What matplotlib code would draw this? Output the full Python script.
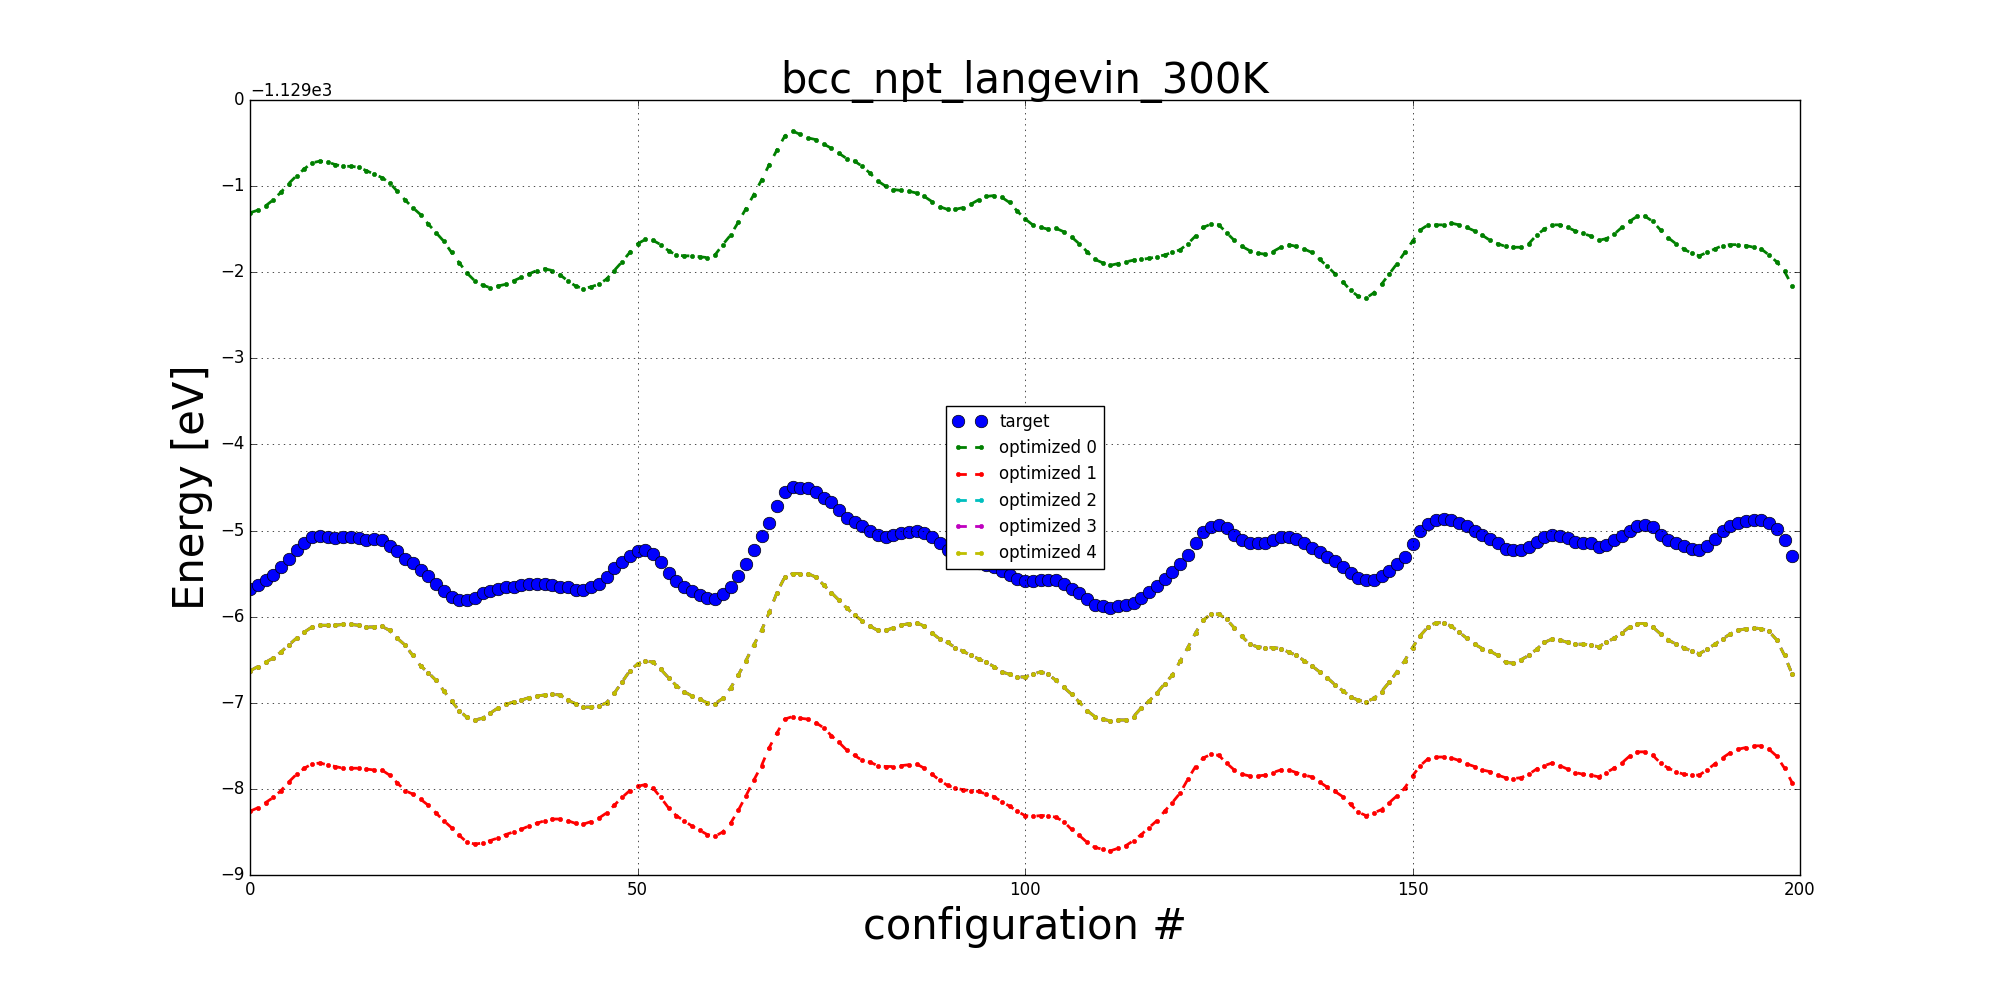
import matplotlib
matplotlib.use("Agg")
import matplotlib.pyplot as plt
import numpy as np

# energies are read relative to the axis offset of -1129 eV
E0 = -1129.0

target = [
    -5.68, -5.63, -5.58, -5.52, -5.42, -5.33, -5.23, -5.14, -5.08, -5.06,
    -5.07, -5.09, -5.08, -5.08, -5.09, -5.11, -5.10, -5.11, -5.18, -5.24,
    -5.33, -5.38, -5.46, -5.53, -5.62, -5.70, -5.77, -5.81, -5.81, -5.78,
    -5.73, -5.70, -5.68, -5.66, -5.65, -5.63, -5.62, -5.62, -5.62, -5.63,
    -5.65, -5.66, -5.69, -5.69, -5.66, -5.62, -5.54, -5.44, -5.37, -5.30,
    -5.24, -5.22, -5.27, -5.36, -5.49, -5.59, -5.65, -5.70, -5.75, -5.78,
    -5.79, -5.74, -5.65, -5.53, -5.39, -5.23, -5.06, -4.91, -4.72, -4.55,
    -4.49, -4.50, -4.51, -4.55, -4.62, -4.67, -4.76, -4.85, -4.90, -4.95,
    -5.00, -5.05, -5.07, -5.05, -5.03, -5.02, -5.00, -5.03, -5.08, -5.15,
    -5.22, -5.27, -5.31, -5.35, -5.38, -5.40, -5.42, -5.47, -5.52, -5.56,
    -5.59, -5.59, -5.57, -5.57, -5.58, -5.62, -5.68, -5.73, -5.80, -5.86,
    -5.88, -5.90, -5.88, -5.87, -5.84, -5.78, -5.71, -5.64, -5.56, -5.48,
    -5.39, -5.28, -5.15, -5.02, -4.96, -4.93, -4.97, -5.05, -5.11, -5.14,
    -5.15, -5.14, -5.11, -5.08, -5.08, -5.10, -5.15, -5.20, -5.25, -5.31,
    -5.35, -5.42, -5.49, -5.55, -5.58, -5.57, -5.53, -5.47, -5.39, -5.31,
    -5.16, -5.01, -4.92, -4.88, -4.87, -4.88, -4.91, -4.95, -5.00, -5.05,
    -5.10, -5.15, -5.21, -5.22, -5.22, -5.19, -5.13, -5.08, -5.05, -5.06,
    -5.09, -5.13, -5.14, -5.15, -5.19, -5.17, -5.11, -5.06, -5.00, -4.95,
    -4.94, -4.96, -5.05, -5.11, -5.14, -5.18, -5.21, -5.22, -5.18, -5.10,
    -5.01, -4.95, -4.91, -4.89, -4.88, -4.88, -4.91, -4.98, -5.11, -5.30,
]

opt0 = [
    -1.31, -1.28, -1.23, -1.16, -1.07, -0.97, -0.88, -0.80, -0.73, -0.71,
    -0.72, -0.75, -0.77, -0.77, -0.78, -0.82, -0.86, -0.90, -0.96, -1.06,
    -1.16, -1.25, -1.33, -1.44, -1.54, -1.64, -1.77, -1.89, -2.01, -2.10,
    -2.15, -2.18, -2.16, -2.14, -2.10, -2.06, -2.02, -1.98, -1.96, -1.98,
    -2.03, -2.10, -2.16, -2.19, -2.17, -2.14, -2.08, -1.98, -1.88, -1.77,
    -1.67, -1.62, -1.63, -1.68, -1.75, -1.80, -1.81, -1.81, -1.82, -1.83,
    -1.80, -1.68, -1.57, -1.42, -1.26, -1.10, -0.93, -0.75, -0.58, -0.42,
    -0.36, -0.40, -0.44, -0.46, -0.51, -0.56, -0.62, -0.68, -0.71, -0.77,
    -0.85, -0.94, -1.00, -1.04, -1.05, -1.06, -1.08, -1.12, -1.18, -1.24,
    -1.27, -1.27, -1.25, -1.21, -1.16, -1.12, -1.11, -1.13, -1.19, -1.29,
    -1.38, -1.45, -1.48, -1.50, -1.49, -1.53, -1.59, -1.67, -1.76, -1.85,
    -1.89, -1.92, -1.90, -1.88, -1.86, -1.85, -1.84, -1.82, -1.80, -1.77,
    -1.74, -1.67, -1.58, -1.48, -1.44, -1.45, -1.54, -1.63, -1.70, -1.75,
    -1.78, -1.79, -1.76, -1.71, -1.68, -1.70, -1.73, -1.77, -1.85, -1.93,
    -2.02, -2.11, -2.21, -2.28, -2.30, -2.24, -2.14, -2.02, -1.90, -1.77,
    -1.64, -1.51, -1.45, -1.45, -1.45, -1.43, -1.45, -1.48, -1.52, -1.57,
    -1.63, -1.67, -1.70, -1.71, -1.71, -1.67, -1.57, -1.50, -1.45, -1.45,
    -1.48, -1.52, -1.55, -1.58, -1.63, -1.61, -1.56, -1.48, -1.41, -1.35,
    -1.35, -1.41, -1.51, -1.60, -1.67, -1.73, -1.78, -1.81, -1.77, -1.73,
    -1.69, -1.68, -1.68, -1.69, -1.71, -1.73, -1.80, -1.88, -1.99, -2.16,
]

opt1 = [
    -8.26, -8.22, -8.16, -8.10, -8.02, -7.92, -7.83, -7.76, -7.71, -7.70,
    -7.72, -7.74, -7.76, -7.76, -7.76, -7.77, -7.78, -7.78, -7.84, -7.93,
    -8.02, -8.06, -8.12, -8.19, -8.28, -8.37, -8.45, -8.54, -8.62, -8.64,
    -8.63, -8.60, -8.57, -8.53, -8.50, -8.47, -8.43, -8.40, -8.37, -8.35,
    -8.35, -8.37, -8.40, -8.41, -8.38, -8.34, -8.28, -8.19, -8.10, -8.02,
    -7.97, -7.95, -7.99, -8.10, -8.22, -8.31, -8.37, -8.43, -8.48, -8.53,
    -8.55, -8.50, -8.40, -8.25, -8.08, -7.90, -7.73, -7.52, -7.35, -7.19,
    -7.16, -7.18, -7.19, -7.23, -7.29, -7.38, -7.46, -7.55, -7.61, -7.67,
    -7.69, -7.73, -7.74, -7.74, -7.73, -7.72, -7.71, -7.76, -7.83, -7.90,
    -7.96, -7.99, -8.01, -8.02, -8.03, -8.06, -8.09, -8.15, -8.20, -8.26,
    -8.31, -8.32, -8.31, -8.31, -8.33, -8.38, -8.47, -8.54, -8.62, -8.68,
    -8.70, -8.72, -8.69, -8.66, -8.60, -8.53, -8.45, -8.37, -8.26, -8.16,
    -8.05, -7.89, -7.74, -7.64, -7.60, -7.61, -7.70, -7.78, -7.83, -7.85,
    -7.85, -7.84, -7.81, -7.78, -7.78, -7.81, -7.84, -7.86, -7.92, -7.98,
    -8.03, -8.09, -8.18, -8.27, -8.31, -8.28, -8.24, -8.16, -8.08, -7.99,
    -7.85, -7.73, -7.65, -7.63, -7.63, -7.64, -7.67, -7.71, -7.74, -7.78,
    -7.80, -7.84, -7.87, -7.88, -7.87, -7.83, -7.77, -7.73, -7.70, -7.73,
    -7.77, -7.81, -7.83, -7.84, -7.86, -7.81, -7.76, -7.70, -7.62, -7.57,
    -7.57, -7.61, -7.70, -7.76, -7.80, -7.83, -7.84, -7.84, -7.78, -7.71,
    -7.64, -7.58, -7.54, -7.52, -7.50, -7.50, -7.54, -7.62, -7.76, -7.93,
]

opt4 = [
    -6.63, -6.58, -6.53, -6.48, -6.41, -6.33, -6.25, -6.18, -6.12, -6.10,
    -6.10, -6.10, -6.09, -6.09, -6.10, -6.12, -6.12, -6.11, -6.16, -6.25,
    -6.33, -6.45, -6.57, -6.65, -6.74, -6.86, -6.98, -7.09, -7.17, -7.20,
    -7.18, -7.12, -7.06, -7.02, -6.99, -6.97, -6.94, -6.92, -6.91, -6.90,
    -6.91, -6.97, -7.01, -7.05, -7.05, -7.04, -7.00, -6.89, -6.76, -6.63,
    -6.55, -6.51, -6.53, -6.61, -6.71, -6.80, -6.87, -6.92, -6.96, -7.00,
    -7.01, -6.95, -6.83, -6.68, -6.51, -6.33, -6.16, -5.95, -5.72, -5.54,
    -5.50, -5.50, -5.50, -5.54, -5.63, -5.72, -5.81, -5.90, -5.98, -6.05,
    -6.11, -6.16, -6.16, -6.13, -6.10, -6.08, -6.07, -6.11, -6.19, -6.26,
    -6.30, -6.36, -6.40, -6.45, -6.49, -6.53, -6.58, -6.64, -6.67, -6.70,
    -6.70, -6.67, -6.64, -6.67, -6.74, -6.82, -6.90, -6.99, -7.09, -7.16,
    -7.19, -7.21, -7.20, -7.20, -7.16, -7.06, -6.98, -6.89, -6.78, -6.68,
    -6.52, -6.36, -6.19, -6.04, -5.97, -5.97, -6.03, -6.13, -6.23, -6.32,
    -6.35, -6.36, -6.36, -6.37, -6.41, -6.45, -6.51, -6.57, -6.64, -6.71,
    -6.79, -6.86, -6.93, -6.97, -6.99, -6.95, -6.87, -6.76, -6.64, -6.51,
    -6.36, -6.22, -6.12, -6.07, -6.07, -6.11, -6.18, -6.25, -6.32, -6.37,
    -6.40, -6.45, -6.53, -6.54, -6.50, -6.45, -6.38, -6.30, -6.26, -6.27,
    -6.30, -6.32, -6.32, -6.33, -6.35, -6.30, -6.25, -6.19, -6.12, -6.08,
    -6.08, -6.12, -6.20, -6.27, -6.32, -6.36, -6.40, -6.43, -6.38, -6.32,
    -6.26, -6.20, -6.16, -6.14, -6.13, -6.14, -6.17, -6.27, -6.45, -6.67,
]

# optimized 2 and 3 sit on top of optimized 4 in the picture (cyan/magenta hidden)
opt2 = list(opt4)
opt3 = list(opt4)

labels = ["optimized 0", "optimized 1", "optimized 2", "optimized 3", "optimized 4"]
styles = ["g.--", "r.--", "c.--", "m.--", "y.--"]

plt.style.use("classic")

config = np.arange(len(target))
fig = plt.figure(figsize=(20, 10), dpi=100)
ax = fig.add_subplot(111)
fig.subplots_adjust(left=0.125, right=0.9, bottom=0.125, top=0.9)

ax.plot(config, np.array(target) + E0, "bo", markersize=9,
        markeredgecolor="k", markeredgewidth=0.5, label="target")
for vals, st, lab in zip([opt0, opt1, opt2, opt3, opt4], styles, labels):
    ax.plot(config, np.array(vals) + E0, st, linewidth=2, label=lab)

ax.set_xlim(0, 200)
ax.set_ylim(E0 - 9, E0)
ax.ticklabel_format(axis="y", useOffset=E0)
ax.grid(True)

ax.set_title("bcc_npt_langevin_300K", fontsize=30)
ax.set_xlabel("configuration #", fontsize=30)
ax.set_ylabel("Energy [eV]", fontsize=30)
ax.legend(loc="center", fontsize=12)

fig.savefig("out.png", dpi=100, facecolor="white")
